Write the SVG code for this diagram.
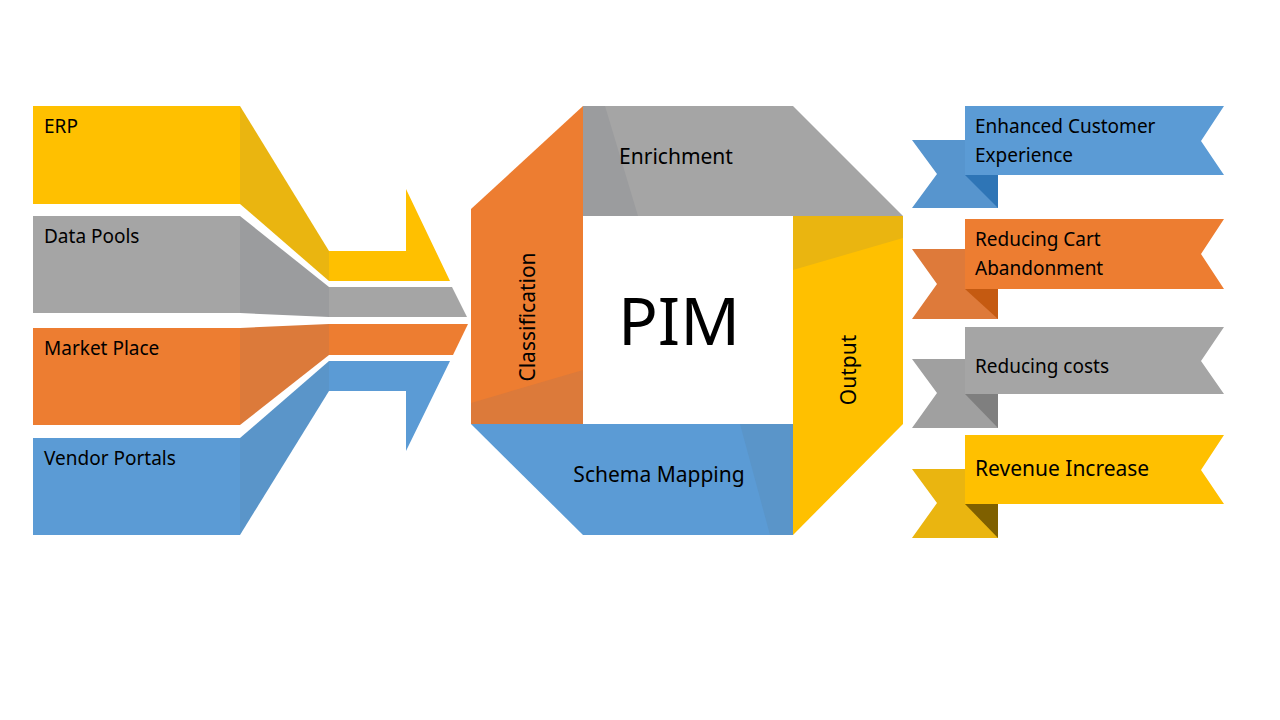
<svg xmlns="http://www.w3.org/2000/svg" width="1280" height="720" viewBox="0 0 1280 720">
<style>
text{font-family:"Noto Sans","Open Sans",sans-serif;fill:#000}
.s{font-size:19px}.m{font-size:21px}
</style>
<rect width="1280" height="720" fill="#fff"/>
<g id="inputs">
<g id="erp"><rect x="33" y="106" width="207" height="98" fill="#FFC000"/><polygon points="240,106 329,251 329,281 240,204" fill="#EAB510"/><polygon points="329,251 406,251 406,189 450,281 329,281" fill="#FFC000"/><text class="s" x="44" y="133">ERP</text></g>
<g id="datapools"><rect x="33" y="216" width="207" height="97" fill="#A5A5A5"/><polygon points="240,216 329,287 329,317 240,313" fill="#9B9C9E"/><polygon points="329,287 452,287 467,317 329,317" fill="#A5A5A5"/><text class="s" x="44" y="243">Data Pools</text></g>
<g id="market"><rect x="33" y="328" width="207" height="97" fill="#ED7D31"/><polygon points="240,328 329,324 329,355 240,425" fill="#DC7A3A"/><polygon points="329,324 468,324 453,355 329,355" fill="#ED7D31"/><text class="s" x="44" y="355">Market Place</text></g>
<g id="vendor"><rect x="33" y="438" width="207" height="97" fill="#5B9BD5"/><polygon points="240,438 329,361 329,391 240,535" fill="#5A95C9"/><polygon points="329,361 450,361 406,451 406,391 329,391" fill="#5B9BD5"/><text class="s" x="44" y="465">Vendor Portals</text></g>
</g>
<g id="pim">
<g id="classification"><polygon points="583,106 583,424 471,424 471,209" fill="#ED7D31"/><polygon points="471,403 583,370 583,424 471,424" fill="#DC7A3A"/><text class="m" transform="translate(535,317) rotate(-90)" text-anchor="middle">Classification</text></g>
<g id="enrichment"><polygon points="583,106 793,106 903,216 583,216" fill="#A5A5A5"/><polygon points="583,106 605,106 638,216 583,216" fill="#9B9C9E"/><text class="m" x="676" y="164" text-anchor="middle">Enrichment</text></g>
<g id="output"><polygon points="793,216 903,216 903,424 793,535" fill="#FFC000"/><polygon points="793,216 903,216 903,238 793,270" fill="#EAB510"/><text class="m" transform="translate(856,370) rotate(-90)" text-anchor="middle">Output</text></g>
<g id="schema"><polygon points="471,424 793,424 793,535 583,535" fill="#5B9BD5"/><polygon points="740,424 793,424 793,535 770,535" fill="#5A95C9"/><text class="m" x="659" y="482" text-anchor="middle">Schema Mapping</text></g>
<text x="679" y="345" text-anchor="middle" font-size="66">PIM</text>
</g>
<g id="outcomes">
<g id="r1"><polygon points="912,140 998,140 998,208 912,208 937,174" fill="#5795CE"/><polygon points="965,106 1224,106 1201,141 1224,175 965,175" fill="#5B9BD5"/><polygon points="965,175 998,175 998,208" fill="#2E75B6"/><text class="s" x="975" y="133">Enhanced Customer</text><text class="s" x="975" y="162">Experience</text></g>
<g id="r2"><polygon points="912,249 998,249 998,319 912,319 937,284" fill="#DE7A3A"/><polygon points="965,219 1224,219 1201,254 1224,289 965,289" fill="#ED7D31"/><polygon points="965,289 998,289 998,319" fill="#C55A11"/><text class="s" x="975" y="246">Reducing Cart</text><text class="s" x="975" y="275">Abandonment</text></g>
<g id="r3"><polygon points="912,359 998,359 998,428 912,428 937,393" fill="#A0A0A0"/><polygon points="965,327 1224,327 1201,361 1224,394 965,394" fill="#A5A5A5"/><polygon points="965,394 998,394 998,428" fill="#7F7F7F"/><text class="s" x="975" y="373">Reducing costs</text></g>
<g id="r4"><polygon points="912,469 998,469 998,538 912,538 937,503" fill="#EAB510"/><polygon points="965,435 1224,435 1201,470 1224,504 965,504" fill="#FFC000"/><polygon points="965,504 998,504 998,538" fill="#7F6000"/><text x="975" y="476" font-size="21">Revenue Increase</text></g>
</g>
</svg>
